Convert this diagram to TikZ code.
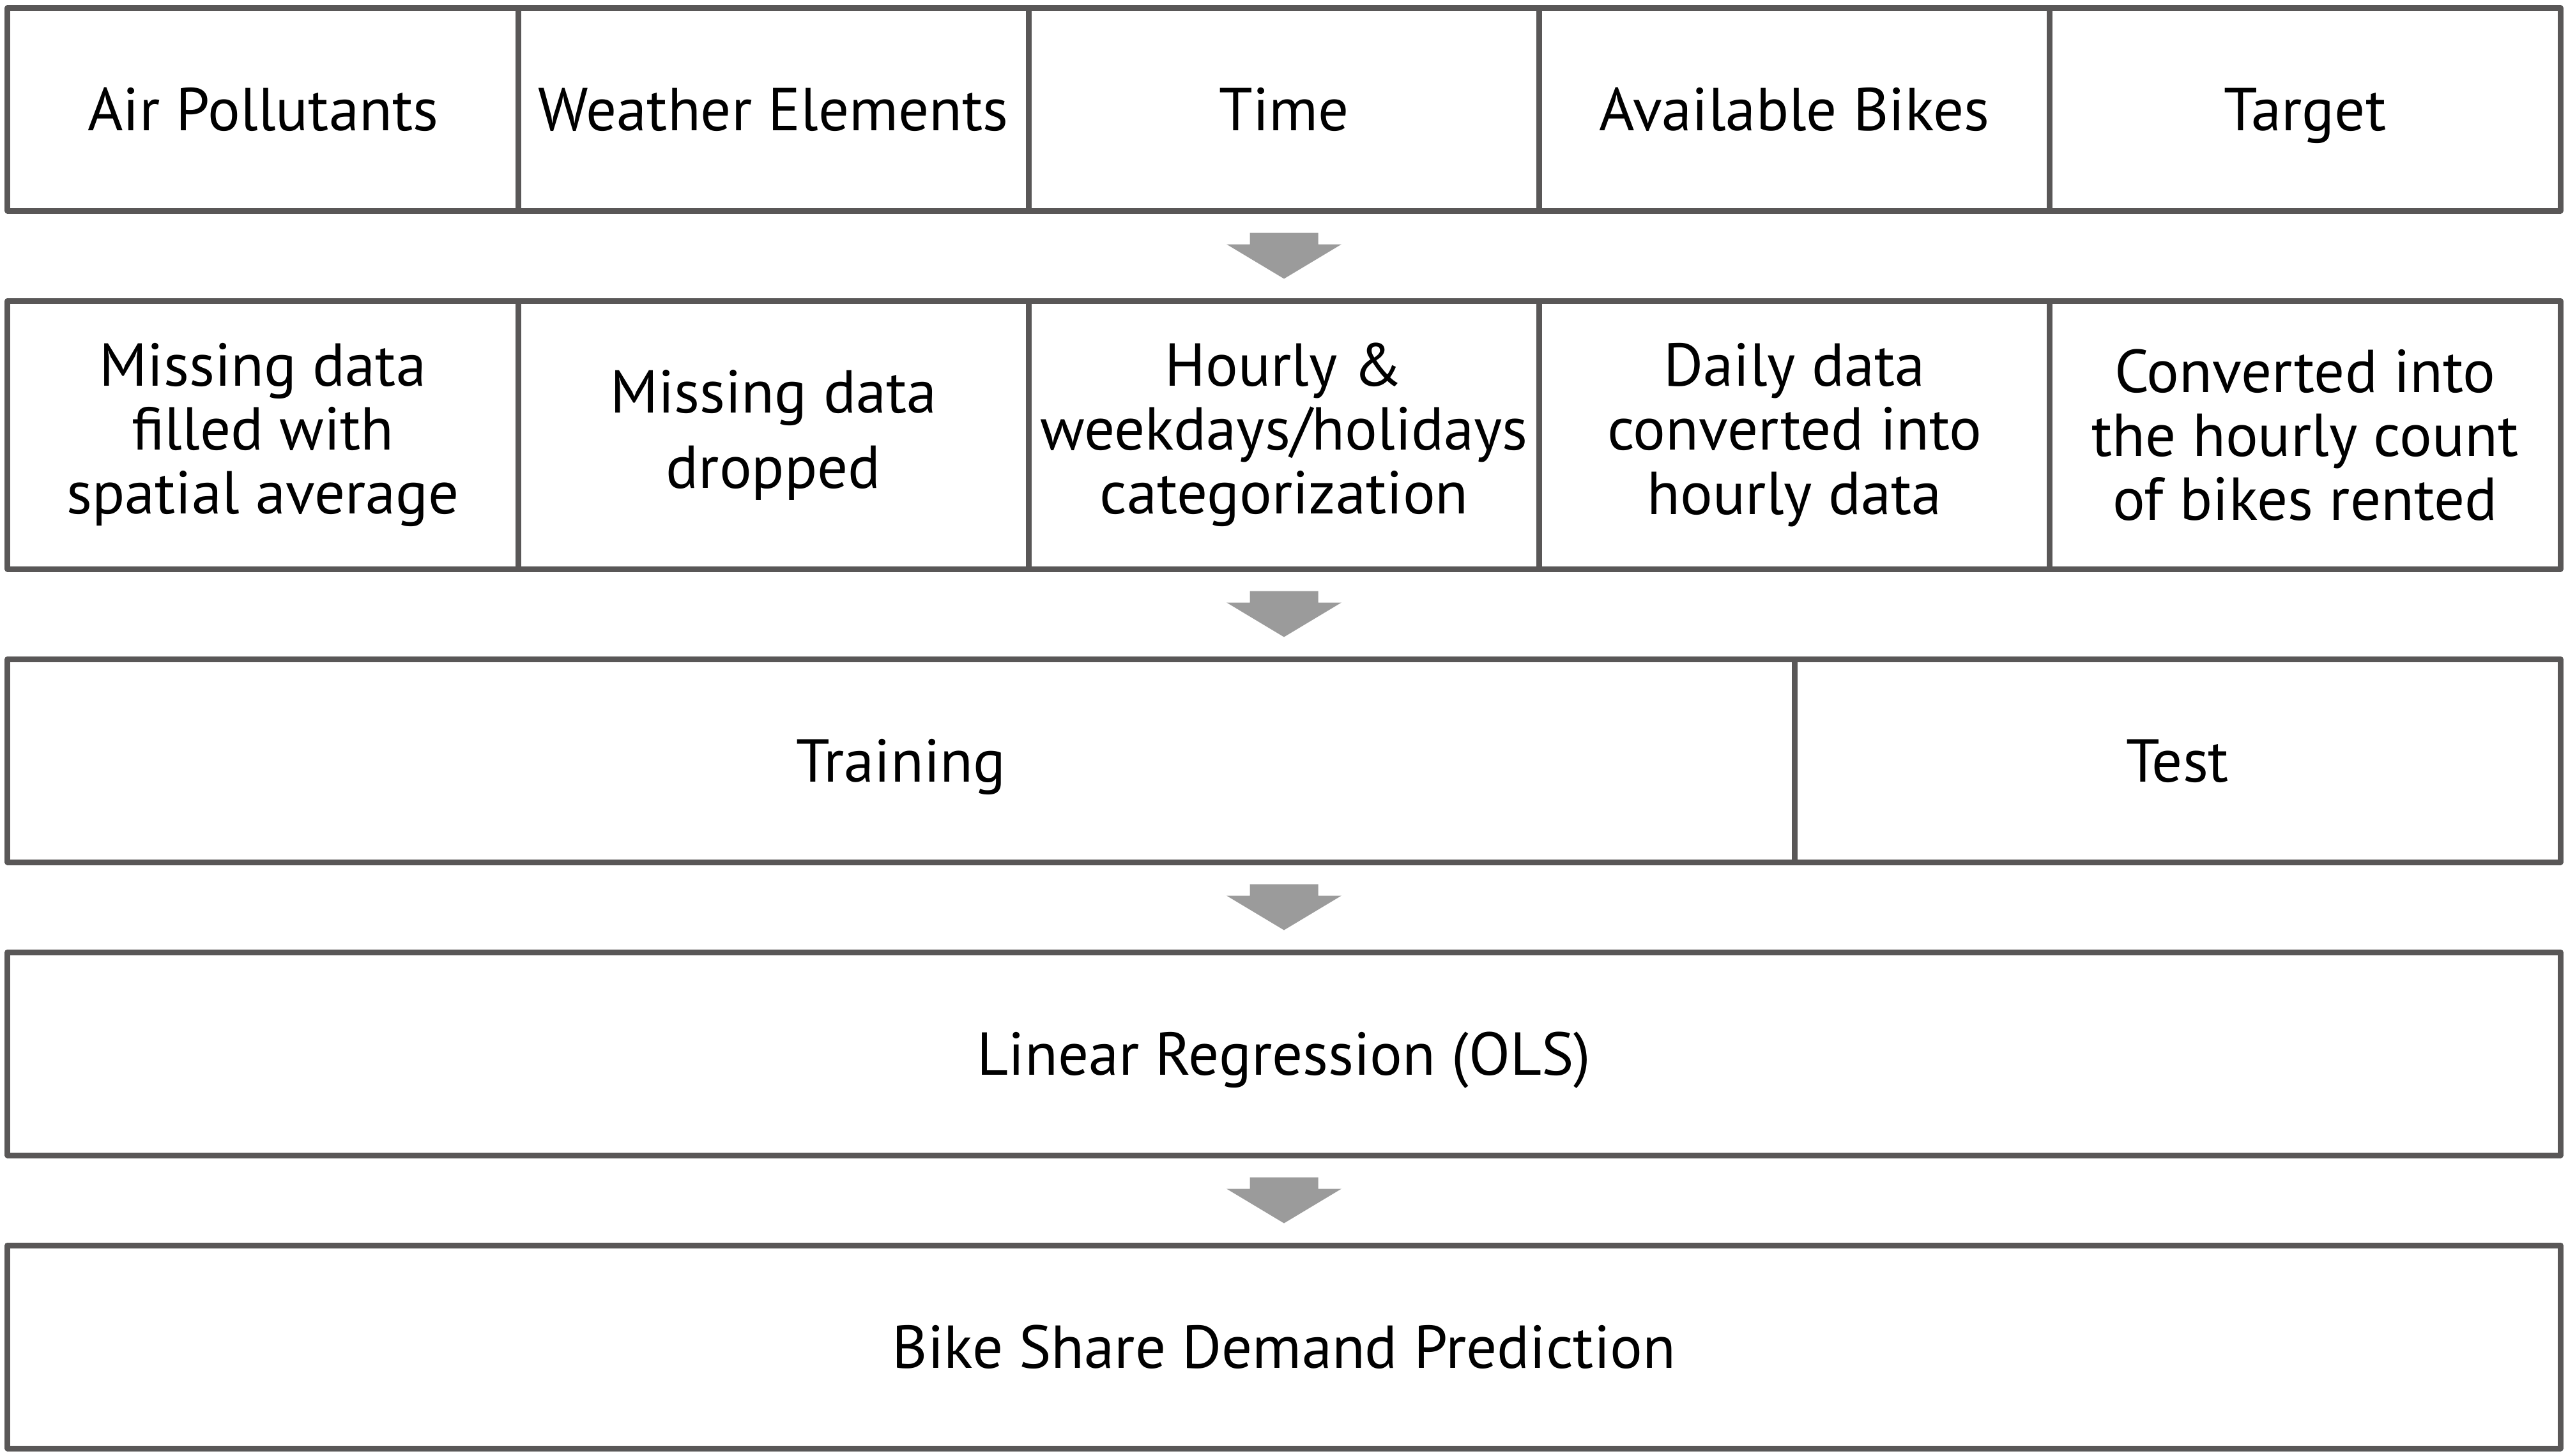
\documentclass[tikz,border=0pt]{standalone}
\usepackage{fontspec}
\setmainfont{PT Sans}
\usepackage{tikz}
\usetikzlibrary{calc}
\definecolor{linegray}{HTML}{595757}
\definecolor{arrowgray}{HTML}{9B9B9B}

\begin{document}
\begin{tikzpicture}[
    font=\fontsize{27}{28.5}\selectfont,
    minimum width=7.992cm, minimum height=3.18cm,
    cell/.style={draw=linegray, line width=0.09cm, line join=round, align=center, inner sep=0pt},
    oneline/.style={cell, text height=24pt, text depth=5pt},
    flow/.style={fill=arrowgray, to path={
        ($(\tikztostart)+(-0.535,-0.30)$) -- ($(\tikztostart)+(0.535,-0.30)$)
        -- ($(\tikztostart)+(0.535,-0.48)$) -- ($(\tikztostart)+(0.90,-0.48)$)
        -- ($(\tikztotarget)+(0,0.30)$)
        -- ($(\tikztostart)+(-0.90,-0.48)$) -- ($(\tikztostart)+(-0.535,-0.48)$) -- cycle}}
  ]
    \useasboundingbox (0,0) rectangle (40.2,-22.8);

    \node[oneline]  (AP)  at ( 4.116, -1.71)  {Air Pollutants};
    \node[oneline]  (WE)  at (12.108, -1.71)  {Weather Elements};
    \node[oneline]  (TI)  at (20.100, -1.71)  {Time};
    \node[oneline]  (AB)  at (28.092, -1.71)  {Available Bikes};
    \node[oneline]  (TA)  at (36.084, -1.71)  {Target};

    \node[cell, minimum height=4.2cm]  (SA)  at ( 4.116, -6.81)  {Missing data \\ filled with \\ spatial average};
    \node[cell, minimum height=4.2cm]  (DR)  at (12.108, -6.81)  {Missing data \\[0.18cm] dropped};
    \node[cell, minimum height=4.2cm]  (HC)  at (20.100, -6.81)  {Hourly \& \\ weekdays/holidays \\ categorization};
    \node[cell, minimum height=4.2cm]  (HD)  at (28.092, -6.81)  {Daily data \\ converted into \\ hourly data};
    \node[cell, minimum height=4.2cm]  (HR)  at (36.084, -6.81)  {Converted into \\ the hourly count \\ of bikes rented};

    \node[oneline, minimum width=27.972cm]  (TR)  at (14.106, -11.91)  {Training};
    \node[oneline, minimum width=11.988cm]  (TE)  at (34.086, -11.91)  {Test};

    \node[oneline, minimum width=39.96cm]  (LR)  at (20.100, -16.50)  {Linear Regression (OLS)};
    \node[oneline, minimum width=39.96cm]  (BP)  at (20.100, -21.09)  {Bike Share Demand Prediction};

    \path[flow] (TI.south) to (HC.north);
    \path[flow] (HC.south) to (HC.south |- TR.north);
    \path[flow] (LR.north |- TR.south) to (LR.north);
    \path[flow] (LR.south) to (BP.north);
\end{tikzpicture}
\end{document}
